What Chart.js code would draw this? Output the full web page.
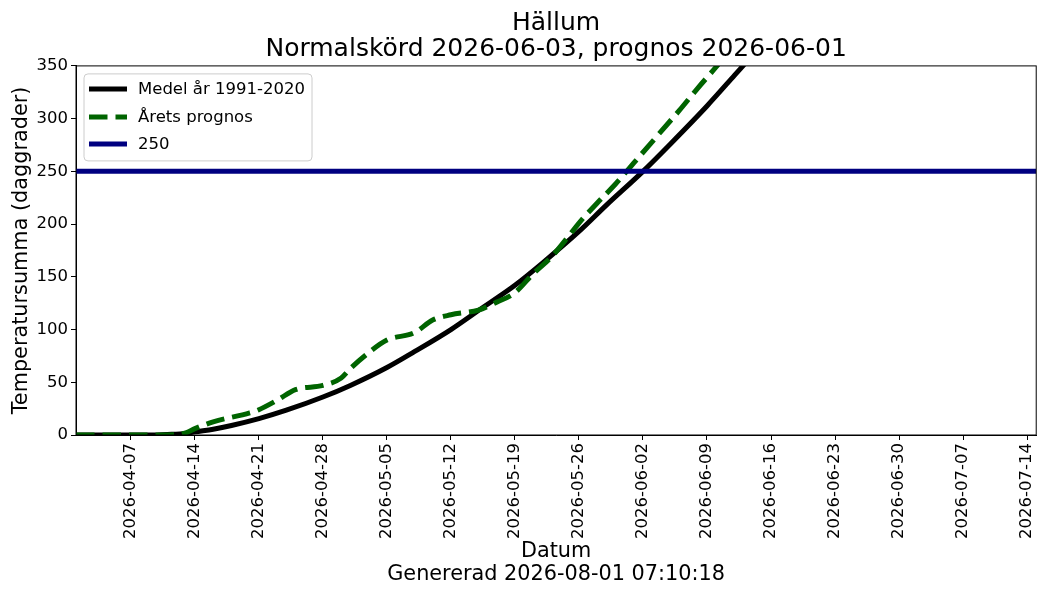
<!DOCTYPE html>
<html>
<head>
<meta charset="utf-8">
<script src="https://cdn.jsdelivr.net/npm/chart.js@4.4.1/dist/chart.umd.min.js"></script>
<style>
  html, body { margin: 0; padding: 0; background: #fff; }
  #wrap { width: 1050px; height: 600px; }
</style>
</head>
<body>
<div id="wrap"><canvas id="gddChart" width="1050" height="600"></canvas></div>
<script>
const startDate = '2026-04-01';
const endDate = '2026-07-15';

// Medel år 1991-2020
const meanDates = ['2026-04-01', '2026-04-05', '2026-04-09', '2026-04-11', '2026-04-13', '2026-04-14',
  '2026-04-16', '2026-04-18', '2026-04-21', '2026-04-24', '2026-04-28', '2026-05-01', '2026-05-05',
  '2026-05-08', '2026-05-12', '2026-05-15', '2026-05-19', '2026-05-22', '2026-05-26', '2026-05-29',
  '2026-06-02', '2026-06-05', '2026-06-09', '2026-06-12', '2026-06-16', '2026-06-20'];
const meanValues = [0, 0, 0, 0.5, 1.5, 3, 5.5, 9, 15.5, 23.5, 36, 47, 64,
  79, 100, 118, 142, 163, 193, 218, 250, 276, 312, 341, 380, 420];

// Årets prognos
const forecastDates = ['2026-04-01', '2026-04-05', '2026-04-09', '2026-04-12', '2026-04-13', '2026-04-14',
  '2026-04-16', '2026-04-20', '2026-04-21', '2026-04-23', '2026-04-25', '2026-04-28', '2026-04-30',
  '2026-05-01', '2026-05-03', '2026-05-05', '2026-05-08', '2026-05-10', '2026-05-12', '2026-05-15',
  '2026-05-17', '2026-05-19', '2026-05-21', '2026-05-23', '2026-05-25', '2026-05-26', '2026-05-28',
  '2026-05-30', '2026-06-01', '2026-06-03', '2026-06-05', '2026-06-06', '2026-06-08', '2026-06-10',
  '2026-06-12'];
const forecastValues = [0, 0, 0, 0.3, 2, 6, 12.5, 21, 24, 33, 43, 47, 54,
  63, 78, 90, 97, 109, 114, 118.5, 126, 135, 153, 169, 190, 201, 220,
  238, 258, 278, 298, 308, 329, 349, 370];

// 250
const thresholdDates = [startDate, endDate];
const thresholdValues = [250, 250];

const tickDates = ['2026-04-07', '2026-04-14', '2026-04-21', '2026-04-28', '2026-05-05', '2026-05-12',
  '2026-05-19', '2026-05-26', '2026-06-02', '2026-06-09', '2026-06-16', '2026-06-23', '2026-06-30',
  '2026-07-07', '2026-07-14'];
const yTicks = [0, 50, 100, 150, 200, 250, 300, 350];

const DAY = 86400000;
function dayOffset(s) { return (Date.parse(s) - Date.parse(startDate)) / DAY; }
function dayLabel(v) { return new Date(Date.parse(startDate) + v * DAY).toISOString().slice(0, 10); }
function toPoints(dates, values) { return dates.map((d, i) => ({ x: dayOffset(d), y: values[i] })); }

Chart.defaults.font.family = '"DejaVu Sans", sans-serif';
Chart.defaults.color = '#000';

// legend drawn inside the plot, top left, matplotlib style
const innerLegend = {
  id: 'innerLegend',
  afterDraw(chart) {
    const { ctx, chartArea } = chart;
    const x0 = chartArea.left + 8, y0 = chartArea.top + 8, w = 228, h = 87;
    ctx.save();
    ctx.beginPath();
    ctx.roundRect(x0, y0, w, h, 4);
    ctx.fillStyle = 'rgba(255,255,255,0.8)';
    ctx.fill();
    ctx.strokeStyle = '#cccccc';
    ctx.lineWidth = 1;
    ctx.stroke();
    ctx.font = '16.5px "DejaVu Sans", sans-serif';
    ctx.textBaseline = 'middle';
    const rows = [15, 43, 70];
    chart.data.datasets.forEach((ds, i) => {
      const y = y0 + rows[i];
      ctx.beginPath();
      ctx.setLineDash(ds.borderDash || []);
      ctx.strokeStyle = ds.borderColor;
      ctx.lineWidth = ds.borderWidth;
      ctx.moveTo(x0 + 5, y);
      ctx.lineTo(x0 + 43, y);
      ctx.stroke();
      ctx.setLineDash([]);
      ctx.fillStyle = '#000';
      ctx.fillText(ds.label, x0 + 54, y + 1);
    });
    ctx.restore();
  }
};

const frameBox = {
  id: 'frameBox',
  afterDatasetsDraw(chart) {
    const { ctx, chartArea } = chart;
    ctx.save();
    ctx.strokeStyle = '#000';
    ctx.lineWidth = 1;
    ctx.strokeRect(chartArea.left, chartArea.top, chartArea.right - chartArea.left, chartArea.bottom - chartArea.top);
    ctx.restore();
  }
};

new Chart(document.getElementById('gddChart').getContext('2d'), {
  type: 'line',
  data: {
    datasets: [
      {
        label: 'Medel år 1991-2020',
        data: toPoints(meanDates, meanValues),
        borderColor: '#000000',
        borderWidth: 5,
        cubicInterpolationMode: 'monotone',
        pointRadius: 0,
        clip: 0,
        order: 2
      },
      {
        label: 'Årets prognos',
        data: toPoints(forecastDates, forecastValues),
        borderColor: '#006400',
        borderWidth: 5,
        borderDash: [18.5, 8],
        cubicInterpolationMode: 'monotone',
        pointRadius: 0,
        clip: 0,
        order: 1
      },
      {
        label: '250',
        data: toPoints(thresholdDates, thresholdValues),
        borderColor: '#000080',
        borderWidth: 5,
        pointRadius: 0,
        clip: 0,
        order: 0
      }
    ]
  },
  options: {
    responsive: false,
    animation: false,
    layout: { padding: { left: 0, right: 11, top: 0, bottom: 0 } },
    plugins: {
      legend: { display: false },
      tooltip: { enabled: false },
      title: {
        display: true,
        fullSize: false,
        text: ['Hällum', 'Normalskörd 2026-06-03, prognos 2026-06-01'],
        font: { size: 25, weight: 'normal', lineHeight: 1.05 },
        color: '#000',
        padding: { top: 10.5, bottom: 2.9 }
      }
    },
    scales: {
      x: {
        type: 'linear',
        min: dayOffset(startDate),
        max: dayOffset(endDate),
        afterBuildTicks(scale) {
          scale.ticks = tickDates.map(d => ({ value: dayOffset(d) }));
        },
        afterFit(scale) { scale.height = 165; },
        ticks: {
          callback: v => dayLabel(v),
          font: { size: 16.5 },
          color: '#000',
          minRotation: 90,
          maxRotation: 90,
          padding: 3,
          autoSkip: false
        },
        grid: { drawOnChartArea: false, drawTicks: true, tickLength: 5, color: '#000' },
        border: { display: true, color: '#000', width: 1 },
        title: {
          display: true,
          text: ['Datum', 'Genererad 2026-08-01 07:10:18'],
          font: { size: 20.8, lineHeight: 1.15 },
          color: '#000',
          padding: { top: 0, bottom: 13 }
        }
      },
      y: {
        min: 0,
        max: 350,
        afterBuildTicks(scale) {
          scale.ticks = yTicks.map(v => ({ value: v }));
        },
        afterFit(scale) { scale.width = 76; },
        ticks: { font: { size: 16.5 }, color: '#000', padding: 3 },
        grid: { drawOnChartArea: false, drawTicks: true, tickLength: 5, color: '#000' },
        border: { display: true, color: '#000', width: 1 },
        title: {
          display: true,
          text: 'Temperatursumma (daggrader)',
          font: { size: 20.8, lineHeight: 1.15 },
          color: '#000',
          padding: { top: 10, bottom: 0 }
        }
      }
    }
  },
  plugins: [frameBox, innerLegend]
});
</script>
</body>
</html>
